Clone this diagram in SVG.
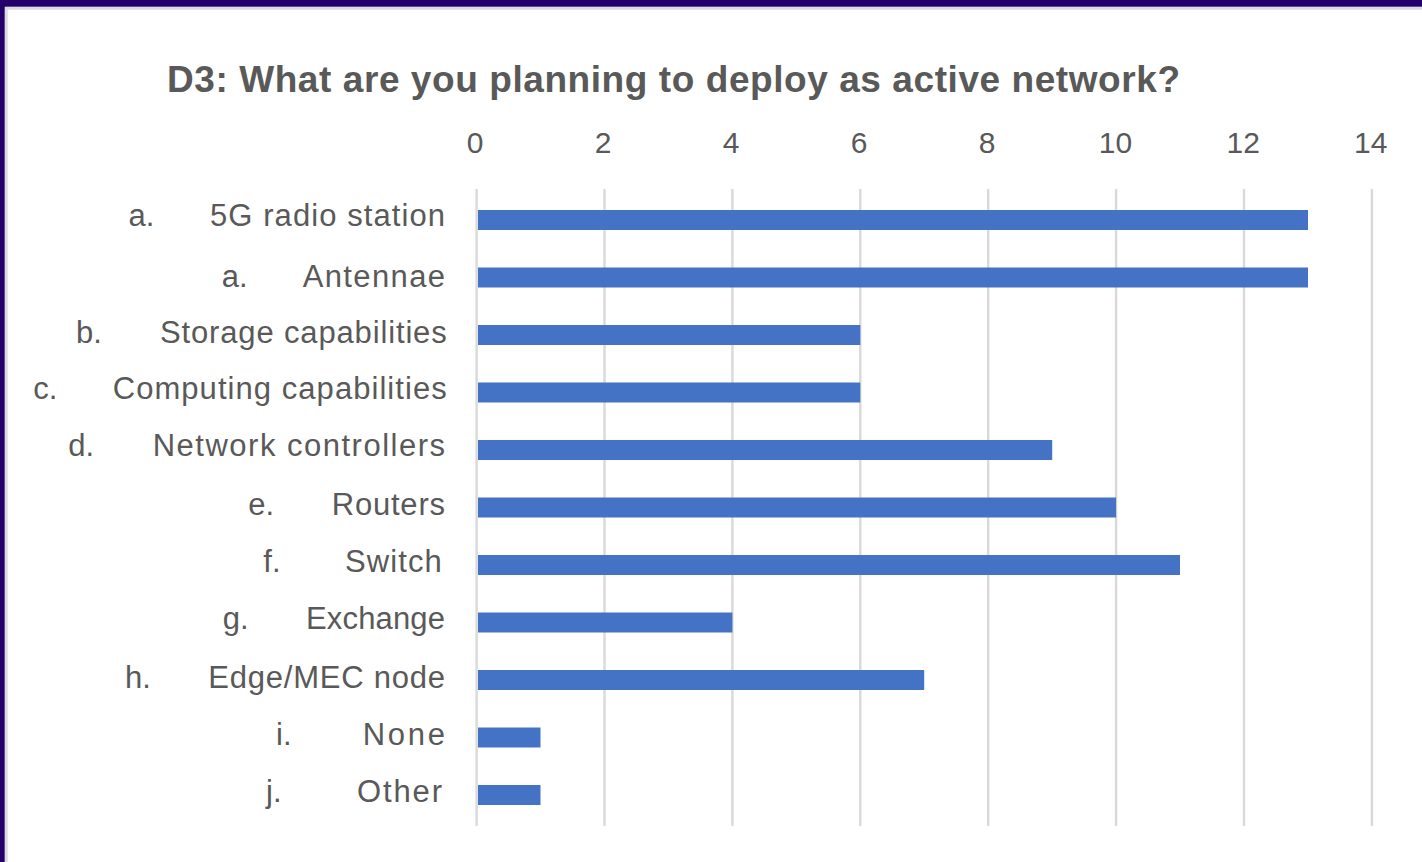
<svg xmlns="http://www.w3.org/2000/svg" width="1422" height="862" viewBox="0 0 1422 862">
  <style>
    .title { font-family: "Liberation Sans", Arial, sans-serif; font-weight: bold; font-size: 37px; fill: #595959; }
    .tick { font-family: "Liberation Sans", Arial, sans-serif; font-size: 30px; fill: #595959; text-anchor: middle; }
    .lbl { font-family: "Liberation Sans", Arial, sans-serif; font-size: 31px; fill: #595959; }
    .grid { stroke: #d9d9d9; stroke-width: 2.4; }
    .bar { fill: #4472c4; }
  </style>

  <!-- page background and frame -->
  <rect x="0" y="0" width="1422" height="862" fill="#ffffff"/>
  <rect x="0" y="6.7" width="1422" height="3" fill="#dcdce0"/>
  <rect x="4.7" y="0" width="3" height="862" fill="#dcdce0"/>
  <rect x="0" y="0" width="1422" height="6.7" fill="#24006a"/>
  <rect x="0" y="0" width="4.7" height="862" fill="#24006a"/>

  <!-- chart title -->
  <text class="title" x="167" y="92" textLength="1013" lengthAdjust="spacing">D3: What are you planning to deploy as active network?</text>

  <!-- value axis: gridlines and tick labels -->
  <g id="grid">
    <line class="grid" x1="476.6" y1="189" x2="476.6" y2="826"/>
    <line class="grid" x1="604.5" y1="189" x2="604.5" y2="826"/>
    <line class="grid" x1="732.4" y1="189" x2="732.4" y2="826"/>
    <line class="grid" x1="860.3" y1="189" x2="860.3" y2="826"/>
    <line class="grid" x1="988.2" y1="189" x2="988.2" y2="826"/>
    <line class="grid" x1="1116.1" y1="189" x2="1116.1" y2="826"/>
    <line class="grid" x1="1244.0" y1="189" x2="1244.0" y2="826"/>
    <line class="grid" x1="1371.9" y1="189" x2="1371.9" y2="826"/>
  </g>
  <g id="ticks">
    <text class="tick" x="475.2" y="152.5">0</text>
    <text class="tick" x="603.2" y="152.5">2</text>
    <text class="tick" x="731.2" y="152.5">4</text>
    <text class="tick" x="859.2" y="152.5">6</text>
    <text class="tick" x="987.2" y="152.5">8</text>
    <text class="tick" x="1115.5" y="152.5">10</text>
    <text class="tick" x="1243.2" y="152.5">12</text>
    <text class="tick" x="1370.8" y="152.5">14</text>
  </g>

  <!-- categories -->
  <g id="cat-5g-radio-station">
    <rect class="bar" x="478" y="210" width="830" height="20"/>
    <text class="lbl" x="128.5" y="225.7">a.</text>
    <text class="lbl" x="210" y="225.7" textLength="235" lengthAdjust="spacing">5G radio station</text>
  </g>
  <g id="cat-antennae">
    <rect class="bar" x="478" y="267.5" width="830" height="20"/>
    <text class="lbl" x="221.7" y="286.7">a.</text>
    <text class="lbl" x="302.7" y="286.7" textLength="142.3" lengthAdjust="spacing">Antennae</text>
  </g>
  <g id="cat-storage">
    <rect class="bar" x="478" y="325" width="382.3" height="20"/>
    <text class="lbl" x="76" y="343.3">b.</text>
    <text class="lbl" x="160" y="343.3" textLength="286.7" lengthAdjust="spacing">Storage capabilities</text>
  </g>
  <g id="cat-computing">
    <rect class="bar" x="478" y="382.5" width="382.3" height="20"/>
    <text class="lbl" x="33.3" y="399.3">c.</text>
    <text class="lbl" x="112.7" y="399.3" textLength="334" lengthAdjust="spacing">Computing capabilities</text>
  </g>
  <g id="cat-network-controllers">
    <rect class="bar" x="478" y="440" width="574.2" height="20"/>
    <text class="lbl" x="68.3" y="456">d.</text>
    <text class="lbl" x="152.7" y="456" textLength="292.3" lengthAdjust="spacing">Network controllers</text>
  </g>
  <g id="cat-routers">
    <rect class="bar" x="478" y="497.5" width="638.1" height="20"/>
    <text class="lbl" x="248.3" y="515">e.</text>
    <text class="lbl" x="331.7" y="515" textLength="113.3" lengthAdjust="spacing">Routers</text>
  </g>
  <g id="cat-switch">
    <rect class="bar" x="478" y="555" width="702" height="20"/>
    <text class="lbl" x="263.3" y="572.3">f.</text>
    <text class="lbl" x="345" y="572.3" textLength="96.7" lengthAdjust="spacing">Switch</text>
  </g>
  <g id="cat-exchange">
    <rect class="bar" x="478" y="612.5" width="254.4" height="20"/>
    <text class="lbl" x="222.7" y="629.3">g.</text>
    <text class="lbl" x="306" y="629.3" textLength="139" lengthAdjust="spacing">Exchange</text>
  </g>
  <g id="cat-edge-mec">
    <rect class="bar" x="478" y="670" width="446.2" height="20"/>
    <text class="lbl" x="125" y="688.3">h.</text>
    <text class="lbl" x="208.3" y="688.3" textLength="236.7" lengthAdjust="spacing">Edge/MEC node</text>
  </g>
  <g id="cat-none">
    <rect class="bar" x="478" y="727.5" width="62.5" height="20"/>
    <text class="lbl" x="276" y="745">i.</text>
    <text class="lbl" x="362.7" y="745" textLength="82.3" lengthAdjust="spacing">None</text>
  </g>
  <g id="cat-other">
    <rect class="bar" x="478" y="785" width="62.5" height="20"/>
    <text class="lbl" x="266" y="802">j.</text>
    <text class="lbl" x="357" y="802" textLength="85" lengthAdjust="spacing">Other</text>
  </g>
</svg>
